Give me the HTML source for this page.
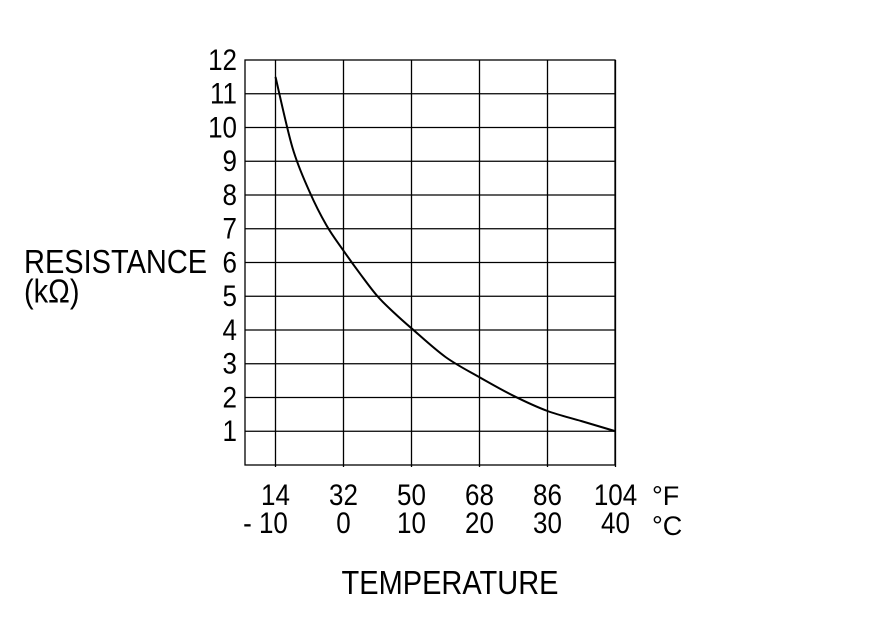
<!DOCTYPE html>
<html><head><meta charset="utf-8"><style>
body{margin:0;background:#fff}
svg text{font-family:"Liberation Sans",Arial,sans-serif;fill:#000}
</style></head><body>
<svg width="880" height="630">
<g id="grid"></g>
<g id="ylab" font-size="26" text-anchor="end"></g>
<g id="xlab" font-size="26" text-anchor="middle"></g>
<path id="curve" fill="none" stroke="#000" stroke-width="2"/>
<text x="24" y="273" font-size="29" transform="translate(0,-41) scale(1,1.15)">RESISTANCE</text>
<text x="24" y="302" font-size="29" transform="translate(0,-45) scale(1,1.15)">(kΩ)</text>
<text x="652" y="505" font-size="27">°F</text>
<text x="652" y="535" font-size="27">°C</text>
<text x="450" y="594" font-size="29" text-anchor="middle" transform="translate(0,-89) scale(1,1.15)">TEMPERATURE</text>
</svg>
<script>
const yTicks=[1,2,3,4,5,6,7,8,9,10,11,12];
const cTicks=[-10,0,10,20,30,40];
const fLabels=["14","32","50","68","86","104"];
const cLabels=["- 10","0","10","20","30","40"];
const temps=[-10,-7.5,-5,-2.5,0,2.5,5,7.5,10,15,20,25,30,35,40];
const resist=[11.5,9.4,8.1,7.1,6.35,5.65,5.0,4.5,4.05,3.2,2.6,2.05,1.6,1.3,1.0];
const X=c=>275.5+(c+10)*6.8, Y=v=>465-v*33.75;
const NS="http://www.w3.org/2000/svg";
function mk(t,a,p){const e=document.createElementNS(NS,t);for(const k in a)e.setAttribute(k,a[k]);p.appendChild(e);return e;}
const g=document.getElementById('grid');
let r=mk('rect',{x:245,y:Y(12),width:370,height:Y(0)-Y(12),fill:'none',stroke:'#000','stroke-width':1.3},g);


yTicks.forEach(v=>{if(v==12)return;const l=mk('line',{x1:245,x2:615,y1:Y(v),y2:Y(v),stroke:'#000','stroke-width':1.3},g);

});
cTicks.forEach(c=>{const l=mk('line',{x1:X(c),x2:X(c),y1:Y(12),y2:Y(0)+2,stroke:'#000','stroke-width':1.3},g);

});
const yl=document.getElementById('ylab');
yTicks.forEach(v=>{const by=Y(v)+10;const t=mk('text',{x:237,y:by,transform:`translate(0,${-by*0.15}) scale(1,1.15)`},yl);t.textContent=v;

});
const xl=document.getElementById('xlab');
cTicks.forEach((c,i)=>{const a=mk('text',{x:X(c),y:505,transform:`translate(0,${-505*0.15}) scale(1,1.15)`},xl);a.textContent=fLabels[i];


const b=mk('text',{x:X(c)+(i==0?-10:0),y:533,transform:`translate(0,${-533*0.15}) scale(1,1.15)`},xl);b.textContent=cLabels[i];

});
const pts=temps.map((t,i)=>[X(t),Y(resist[i])]);
let d=`M${pts[0][0]},${pts[0][1]}`;
for(let i=0;i<pts.length-1;i++){const p0=pts[Math.max(0,i-1)],p1=pts[i],p2=pts[i+1],p3=pts[Math.min(pts.length-1,i+2)];
d+=` C${p1[0]+(p2[0]-p0[0])/6},${p1[1]+(p2[1]-p0[1])/6} ${p2[0]-(p3[0]-p1[0])/6},${p2[1]-(p3[1]-p1[1])/6} ${p2[0]},${p2[1]}`;}
document.getElementById('curve').setAttribute('d',d);
</script>
</body></html>
